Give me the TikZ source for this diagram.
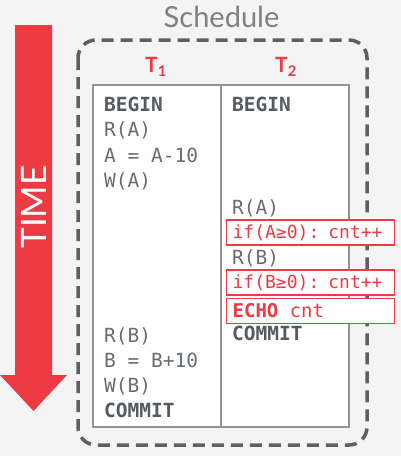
\documentclass[tikz,border=0pt]{standalone}
\usepackage{fontspec}
\setmainfont{Lato}
\setmonofont{DejaVu Sans Mono}

\definecolor{bggray}{HTML}{F4F4F4}
\definecolor{tred}{HTML}{EE3A43}
\definecolor{codegray}{HTML}{676D72}
\definecolor{boldgray}{HTML}{555B60}
\definecolor{boxgray}{HTML}{5F5F5F}

\tikzset{
  code/.style={anchor=base west, inner sep=0pt, text=codegray,
    font=\ttfamily\fontsize{19.5}{20}\selectfont},
  kw/.style={code, text=boldgray, font=\ttfamily\bfseries\fontsize{19.5}{20}\selectfont},
  alert/.style={anchor=west, draw=tred, line width=1.3pt, fill=white,
    text=tred, minimum width=168pt, minimum height=25pt,
    text width=156pt, inner xsep=6pt, inner ysep=0pt, align=left,
    font=\ttfamily\fontsize{18}{19}\selectfont},
  txn/.style={text=tred, font=\bfseries\fontsize{21}{21}\selectfont},
}

\begin{document}
\begin{tikzpicture}[x=1pt,y=-1pt]
\useasboundingbox (0,0) rectangle (401,456);
\fill[bggray] (0,0) rectangle (401,456);

% time arrow
\fill[tred] (15,25) -- (52,25) -- (52,375) -- (67,375) -- (33.5,411)
  -- (0,375) -- (15,375) -- cycle;
\node[rotate=90, text=white, font=\fontsize{35}{35}\selectfont] (time) at (33.5,207) {TIME};

% schedule frame
\node[text=gray, font=\fontsize{29}{29}\selectfont] (sched) at (221.5,17) {Schedule};
\draw[boxgray, line width=3.5pt, dash pattern=on 12pt off 7pt, rounded corners=18pt]
  (78,40) rectangle (367,445);

\node[txn] (t1) at (156,67) {T\textsubscript{1}};
\node[txn] (t2) at (286,67) {T\textsubscript{2}};

% table
\draw[gray!85, line width=1.3pt, fill=white] (93,85) rectangle (349,427);
\draw[gray!85, line width=1.3pt] (221,85) -- (221,427);

% T1
\node[kw] (a0) at (104,111) {BEGIN};
\foreach \i/\y/\txt in {1/136.5/R(A),2/162/A = A-10,3/187.5/W(A),
                        4/342/R(B),5/367/B = B+10,6/392/W(B)} {
\node[code] (a\i) at (104,\y) {\txt};
}
\node[kw] (a7) at (104,417) {COMMIT};

% T2
\node[kw] (b0) at (232,111) {BEGIN};
\node[code] (b1) at (232,214) {R(A)};
\node[alert] (b2) at (226,232.5) {if(A≥0): cnt++};
\node[code] (b3) at (232,264) {R(B)};
\node[alert] (b4) at (226,282.5) {if(B≥0): cnt++};
\node[alert, font=\ttfamily\fontsize{19}{20}\selectfont] (b5) at (226,311) {\textbf{ECHO}\hspace{0.6em}cnt};
\node[kw] (b6) at (232,340.5) {COMMIT};
\end{tikzpicture}
\end{document}
